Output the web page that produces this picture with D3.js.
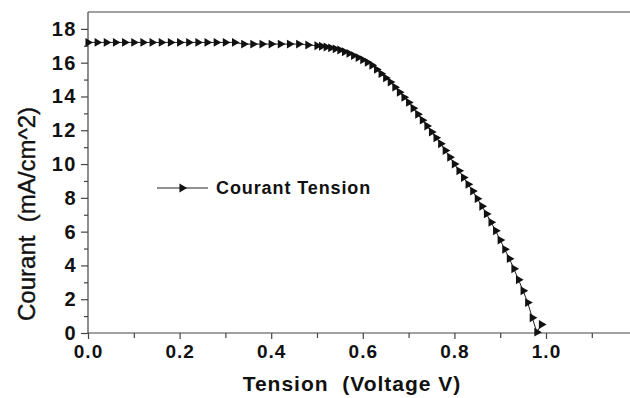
<!DOCTYPE html>
<html>
<head>
<meta charset="utf-8">
<script src="https://cdn.jsdelivr.net/npm/d3@7"></script>
<style>
  body { margin: 0; background: #fff; }
  svg { display: block; font-family: "Liberation Sans", Arial, sans-serif; }
  text { white-space: pre; }
</style>
</head>
<body>
<svg id="chart"></svg>
<script>
// tension (V) / courant (mA/cm^2)
const tension = [
  0.00, 0.02, 0.04, 0.06, 0.08, 0.10, 0.12, 0.14, 0.16, 0.18,
  0.20, 0.22, 0.24, 0.26, 0.28, 0.30, 0.32, 0.34, 0.36, 0.38,
  0.40, 0.42, 0.44, 0.46, 0.48, 0.50, 0.51, 0.52, 0.53, 0.54,
  0.55, 0.56, 0.57, 0.58, 0.59, 0.60, 0.61, 0.62, 0.63, 0.64,
  0.65, 0.66, 0.67, 0.68, 0.69, 0.70, 0.71, 0.72, 0.73, 0.74,
  0.75, 0.76, 0.77, 0.78, 0.79, 0.80, 0.81, 0.82, 0.83, 0.84,
  0.85, 0.86, 0.87, 0.88, 0.89, 0.90, 0.91, 0.92, 0.93, 0.94,
  0.95, 0.96, 0.97, 0.98, 0.99
];
const courant = [
  17.2, 17.2, 17.2, 17.2, 17.2, 17.2, 17.2, 17.2, 17.2, 17.2,
  17.2, 17.2, 17.2, 17.2, 17.2, 17.2, 17.2, 17.1, 17.1, 17.1,
  17.1, 17.1, 17.1, 17.1, 17.05, 17.0, 16.97, 16.93, 16.88, 16.82,
  16.75, 16.65, 16.55, 16.42, 16.3, 16.17, 16.02, 15.85, 15.6, 15.35,
  15.1, 14.85, 14.55, 14.25, 13.95, 13.65, 13.3, 12.95, 12.6, 12.25,
  11.9, 11.55, 11.2, 10.8, 10.4, 10.0, 9.6, 9.2, 8.8, 8.4,
  7.95, 7.5, 7.05, 6.55, 6.05, 5.5, 4.95, 4.4, 3.8, 3.15,
  2.5, 1.8, 0.9, 0.05, 0.5
];
const xTicks = [0, 0.2, 0.4, 0.6, 0.8, 1.0];
const xMinor = [0.1, 0.3, 0.5, 0.7, 0.9, 1.1];
const yTicks = [0, 2, 4, 6, 8, 10, 12, 14, 16, 18];
const yMinor = [1, 3, 5, 7, 9, 11, 13, 15, 17];
const seriesName = "Courant Tension";

const width = 630, height = 398;
const margin = {left: 88, top: 12, right: 0, bottom: 65};

const svg = d3.select("#chart").attr("width", width).attr("height", height);

const x = d3.scaleLinear().domain([0, 1.2]).range([margin.left, margin.left + 1.2 * 458]);
const y = d3.scaleLinear().domain([0, 19]).range([height - margin.bottom, margin.top]);

const axisColor = "#444";

// frame top
svg.append("line")
  .attr("x1", x(0)).attr("x2", width)
  .attr("y1", y(19)).attr("y2", y(19))
  .attr("stroke", axisColor).attr("stroke-width", 1.2);

// y axis
const gy = svg.append("g").attr("transform", "translate(" + x(0) + ",0)");
gy.call(d3.axisLeft(y).tickValues(yTicks).tickSize(7).tickPadding(4).tickFormat(d3.format("d")));
gy.append("g").call(d3.axisLeft(y).tickValues(yMinor).tickSize(4).tickFormat(""));
gy.selectAll(".domain").remove();
gy.append("line").attr("y1", y(0)).attr("y2", y(19)).attr("stroke", axisColor).attr("stroke-width", 1.2);

// x axis
const gx = svg.append("g").attr("transform", "translate(0," + y(0) + ")");
gx.call(d3.axisBottom(x).tickValues(xTicks).tickSize(6).tickPadding(6).tickFormat(d3.format(".1f")));
gx.append("g").call(d3.axisBottom(x).tickValues(xMinor).tickSize(5).tickFormat(""));
gx.selectAll(".domain").remove();
gx.append("line").attr("x1", x(0)).attr("x2", width).attr("stroke", axisColor).attr("stroke-width", 1.2);

svg.selectAll(".tick line").attr("stroke", axisColor).attr("stroke-width", 1.2);
svg.selectAll(".tick text")
  .attr("fill", "#111")
  .style("font-size", "19px")
  .style("font-weight", "bold")
  .style("letter-spacing", "1px");
gy.selectAll(".tick text").style("font-size", "20px").style("letter-spacing", "1.5px");

// axis titles
svg.append("text")
  .attr("x", 352).attr("y", 391)
  .attr("text-anchor", "middle")
  .style("font-size", "21px").style("font-weight", "bold")
  .style("letter-spacing", "1px")
  .attr("fill", "#111")
  .text("Tension  (Voltage V)");

svg.append("text")
  .attr("transform", "translate(35,214) rotate(-90)")
  .attr("text-anchor", "middle")
  .style("font-size", "24px")
  .attr("stroke", "#111").attr("stroke-width", 0.4)
  .attr("fill", "#111")
  .text("Courant  (mA/cm^2)");

// series
const pts = tension.map((v, i) => [v, courant[i]]);
const tri = d3.symbol().type(d3.symbolTriangle).size(34);

svg.append("path")
  .datum(pts)
  .attr("fill", "none")
  .attr("stroke", "#222")
  .attr("stroke-width", 1)
  .attr("d", d3.line().x(d => x(d[0])).y(d => y(d[1])));

svg.append("g").selectAll("path")
  .data(pts)
  .enter()
  .append("path")
  .attr("d", tri)
  .attr("fill", "#111")
  .attr("transform", d => "translate(" + x(d[0]) + "," + y(d[1]) + ") rotate(90)");

// legend
const lg = svg.append("g").attr("transform", "translate(157,188)");
lg.append("line").attr("x1", 0).attr("x2", 51).attr("stroke", "#222").attr("stroke-width", 1);
lg.append("path").attr("d", tri).attr("fill", "#111").attr("transform", "translate(25,0) rotate(90)");
lg.append("text")
  .attr("x", 59).attr("y", 6)
  .style("font-size", "18px").style("font-weight", "bold")
  .style("letter-spacing", "0.9px")
  .attr("fill", "#111")
  .text(seriesName);
</script>
</body>
</html>
